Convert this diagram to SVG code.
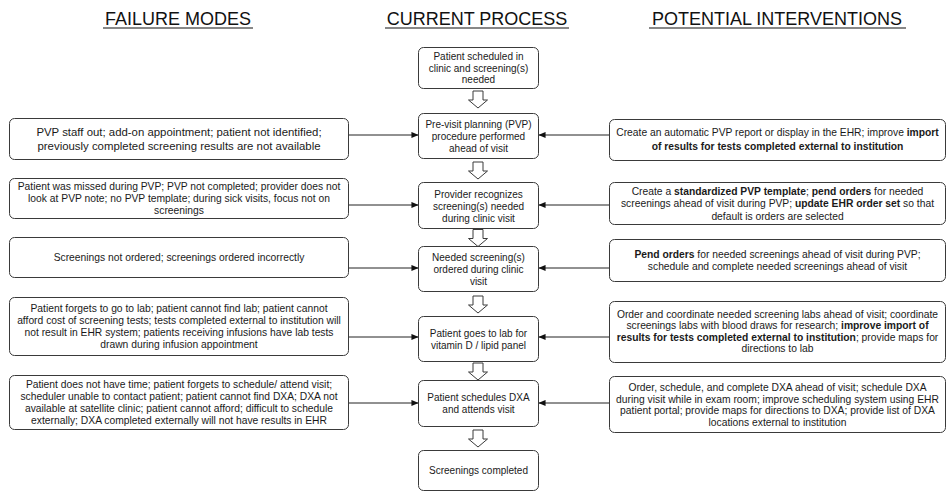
<svg xmlns="http://www.w3.org/2000/svg" width="947" height="492" viewBox="0 0 947 492">
<style>
.box{fill:#fff;stroke:#3a3a3a;stroke-width:1}
.t{font-family:"Liberation Sans",Arial,sans-serif;fill:#1a1a1a;text-anchor:middle}
.c{font-size:10px}
.l{font-size:10.3px}
.r{font-size:10.3px}
.h{font-family:"Liberation Sans",Arial,sans-serif;font-size:18px;fill:#111;text-anchor:middle}
.ul{stroke:#111;stroke-width:1.2}
.conn{stroke:#222;stroke-width:1;fill:none;marker-end:url(#ah)}
.blk{fill:#fff;stroke:#3a3a3a;stroke-width:1}
.b{font-weight:bold}
</style>
<defs>
<marker id="ah" viewBox="0 0 8 8" refX="7.5" refY="4" markerWidth="7" markerHeight="7" orient="auto" markerUnits="userSpaceOnUse">
<path d="M0,0.5 L8,4 L0,7.5 Z" fill="#111"/>
</marker>
<path id="darr" d="M-5,0 H5 V9 H9.5 L0,17 L-9.5,9 H-5 Z"/>
</defs>
<rect width="947" height="492" fill="#fff"/>

<g id="headers">
<text class="h" x="178" y="25">FAILURE MODES</text>
<line class="ul" x1="103" y1="28" x2="253" y2="28"/>
<text class="h" x="477" y="25">CURRENT PROCESS</text>
<line class="ul" x1="385" y1="28" x2="569" y2="28"/>
<text class="h" x="777" y="25">POTENTIAL INTERVENTIONS</text>
<line class="ul" x1="649" y1="28" x2="906" y2="28"/>
</g>

<g id="connectors">
<line class="conn" x1="348" y1="135" x2="418" y2="135"/>
<line class="conn" x1="609" y1="135" x2="539" y2="135"/>
<line class="conn" x1="348" y1="205" x2="418" y2="205"/>
<line class="conn" x1="609" y1="205" x2="539" y2="205"/>
<line class="conn" x1="348" y1="268" x2="418" y2="268"/>
<line class="conn" x1="609" y1="268" x2="539" y2="268"/>
<line class="conn" x1="348" y1="337" x2="418" y2="337"/>
<line class="conn" x1="609" y1="337" x2="539" y2="337"/>
<line class="conn" x1="348" y1="403" x2="418" y2="403"/>
<line class="conn" x1="609" y1="403" x2="539" y2="403"/>
<use href="#darr" class="blk" x="478" y="91"/>
<use href="#darr" class="blk" x="478" y="162"/>
<use href="#darr" class="blk" x="478" y="229.5"/>
<use href="#darr" class="blk" x="478" y="296"/>
<use href="#darr" class="blk" x="478" y="363"/>
<use href="#darr" class="blk" x="478" y="430"/>
</g>

<g id="c0">
<rect class="box" x="418.5" y="47.5" width="120" height="41" rx="5"/>
<text class="t c" x="478.5" y="60">Patient scheduled in</text>
<text class="t c" x="478.5" y="71.5">clinic and screening(s)</text>
<text class="t c" x="478.5" y="83">needed</text>
</g>
<g id="c1">
<rect class="box" x="418.5" y="113.5" width="120" height="45" rx="5"/>
<text class="t c" x="478.5" y="128">Pre-visit planning (PVP)</text>
<text class="t c" x="478.5" y="140">procedure performed</text>
<text class="t c" x="478.5" y="152">ahead of visit</text>
</g>
<g id="c2">
<rect class="box" x="418.5" y="182.5" width="120" height="46" rx="5"/>
<text class="t c" x="478.5" y="197.5">Provider recognizes</text>
<text class="t c" x="478.5" y="209.5">screening(s) needed</text>
<text class="t c" x="478.5" y="221.5">during clinic visit</text>
</g>
<g id="c3">
<rect class="box" x="418.5" y="246.5" width="120" height="45" rx="5"/>
<text class="t c" x="478.5" y="261">Needed screening(s)</text>
<text class="t c" x="478.5" y="273">ordered during clinic</text>
<text class="t c" x="478.5" y="285">visit</text>
</g>
<g id="c4">
<rect class="box" x="418.5" y="316.5" width="120" height="45" rx="5"/>
<text class="t c" x="478.5" y="336.5">Patient goes to lab for</text>
<text class="t c" x="478.5" y="348.5">vitamin D / lipid panel</text>
</g>
<g id="c5">
<rect class="box" x="418.5" y="380.5" width="120" height="46" rx="5"/>
<text class="t c" x="478.5" y="401">Patient schedules DXA</text>
<text class="t c" x="478.5" y="413">and attends visit</text>
</g>
<g id="c6">
<rect class="box" x="418.5" y="450.5" width="120" height="40" rx="5"/>
<text class="t c" x="478.5" y="474">Screenings completed</text>
</g>

<g id="l1">
<rect class="box" x="9.5" y="118.5" width="339" height="41" rx="5"/>
<text class="t" style="font-size:11.4px" x="179" y="135.5">PVP staff out; add-on appointment; patient not identified;</text>
<text class="t" style="font-size:11.4px" x="179" y="149.5">previously completed screening results are not available</text>
</g>
<g id="l2">
<rect class="box" x="9.5" y="178.5" width="339" height="40" rx="5"/>
<text class="t l" x="179" y="190">Patient was missed during PVP; PVP not completed; provider  does not</text>
<text class="t l" x="179" y="202">look at PVP note; no PVP template; during sick visits, focus not on</text>
<text class="t l" x="179" y="214">screenings</text>
</g>
<g id="l3">
<rect class="box" x="9.5" y="237.5" width="339" height="40" rx="5"/>
<text class="t l" x="179" y="260.5">Screenings not ordered; screenings ordered incorrectly</text>
</g>
<g id="l4">
<rect class="box" x="9.5" y="297.5" width="339" height="58" rx="5"/>
<text class="t l" x="179" y="311.5">Patient forgets to go to lab; patient cannot find lab; patient cannot</text>
<text class="t l" x="179" y="323.5">afford cost of screening tests; tests completed external to institution will</text>
<text class="t l" x="179" y="335.5">not result in EHR system; patients receiving infusions have lab tests</text>
<text class="t l" x="179" y="347.5">drawn during infusion appointment</text>
</g>
<g id="l5">
<rect class="box" x="9.5" y="375.5" width="339" height="54" rx="5"/>
<text class="t l" x="179" y="388">Patient does not have time; patient forgets to schedule/ attend visit;</text>
<text class="t l" x="179" y="400">scheduler unable to contact patient; patient cannot find DXA; DXA not</text>
<text class="t l" x="179" y="412">available at satellite clinic; patient cannot afford; difficult to schedule</text>
<text class="t l" x="179" y="424">externally; DXA completed externally will not have results in EHR</text>
</g>

<g id="r1">
<rect class="box" x="609.5" y="119.5" width="336" height="41" rx="5"/>
<text class="t r" x="777.5" y="136">Create an automatic PVP report or display in the EHR; improve <tspan class="b">import</tspan></text>
<text class="t r b" x="777.5" y="150">of results for tests completed external to institution</text>
</g>
<g id="r2">
<rect class="box" x="609.5" y="182.5" width="336" height="42" rx="5"/>
<text class="t r" x="777.5" y="194.5">Create a <tspan class="b">standardized PVP template</tspan>; <tspan class="b">pend orders</tspan> for needed</text>
<text class="t r" x="777.5" y="207">screenings ahead of visit during PVP; <tspan class="b">update EHR order set</tspan> so that</text>
<text class="t r" x="777.5" y="219.5">default is orders are selected</text>
</g>
<g id="r3">
<rect class="box" x="609.5" y="239.5" width="336" height="42" rx="5"/>
<text class="t r" x="777.5" y="258"><tspan class="b">Pend orders</tspan> for needed screenings ahead of visit during PVP;</text>
<text class="t r" x="777.5" y="270">schedule and complete needed screenings ahead of visit</text>
</g>
<g id="r4">
<rect class="box" x="609.5" y="301.5" width="336" height="61" rx="5"/>
<text class="t r" x="777.5" y="317.5">Order and coordinate needed screening labs ahead of visit; coordinate</text>
<text class="t r" x="777.5" y="329">screenings labs with blood draws for research; <tspan class="b">improve import of</tspan></text>
<text class="t r" x="777.5" y="340.5"><tspan class="b">results for tests completed external to institution</tspan>; provide maps for</text>
<text class="t r" x="777.5" y="352">directions to lab</text>
</g>
<g id="r5">
<rect class="box" x="609.5" y="376.5" width="336" height="56" rx="5"/>
<text class="t r" x="777.5" y="390.5">Order, schedule, and complete DXA ahead of visit; schedule DXA</text>
<text class="t r" x="777.5" y="402.5">during visit while in exam room; improve scheduling system using EHR</text>
<text class="t r" x="777.5" y="414">patient portal; provide maps for directions to DXA; provide list of DXA</text>
<text class="t r" x="777.5" y="425.5">locations external to institution</text>
</g>
</svg>
